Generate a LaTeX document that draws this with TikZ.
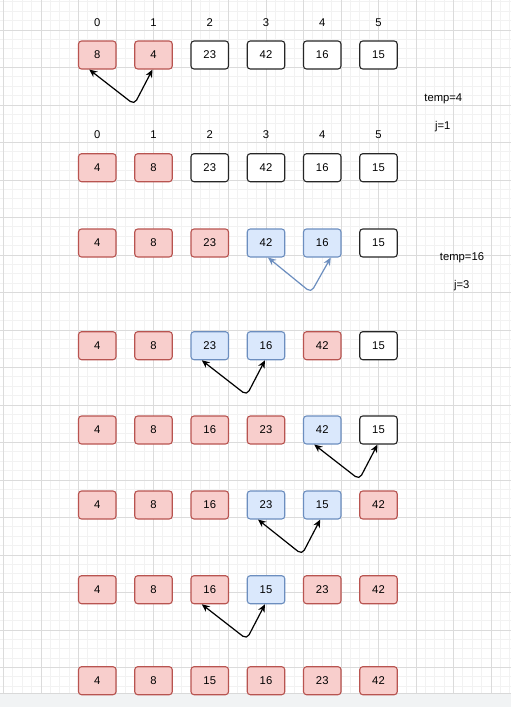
\documentclass[tikz,border=0pt]{standalone}
\usepackage{fontspec}
\setmainfont{Liberation Sans}
\usetikzlibrary{arrows.meta}
\begin{document}
\begin{tikzpicture}[x=1pt, y=-1pt,
  nodes={font=\fontsize{11.25}{13}\selectfont},
  cell/.style={rounded corners=3pt, line width=1.1pt, minimum width=37.5pt, minimum height=28pt, inner sep=0pt},
  link/.style={{Stealth[length=8pt,width=7pt]}-{Stealth[length=8pt,width=7pt]}, line width=1.2pt, rounded corners=5pt},
  minor/.style={draw=black!5, line width=0.8pt},
  major/.style={draw=black!14, line width=1pt}]

\definecolor{done fill}{HTML}{F8CECC}
\definecolor{done line}{HTML}{B85450}
\definecolor{live fill}{HTML}{DAE8FC}
\definecolor{live line}{HTML}{6C8EBF}
\definecolor{todo fill}{HTML}{FFFFFF}
\definecolor{todo line}{HTML}{262626}
\definecolor{band}{HTML}{F1F3F4}

\useasboundingbox (0,0) rectangle (511,707);
\fill[white] (0,0) rectangle (511,707);

% grid
\foreach \k in {0,...,54} \draw[minor] ({3.5+9.375*\k},0) -- ++(0,693.5);
\foreach \k in {1,...,74} \draw[minor] (0,{-7.5+9.375*\k}) -- ++(511,0);
\foreach \k in {0,...,13} \draw[major] ({3.5+37.5*\k},0) -- ++(0,693.5);
\foreach \k in {0,...,17} \draw[major] (0,{30+37.5*\k}) -- ++(511,0);
\fill[band] (0,693.5) rectangle (511,707);
\draw[black!15] (0,693.5) -- ++(511,0);

% indices
\foreach \c in {0,...,5} {
  \node (a\c) at ({97.25+56.25*\c},23) {\c};
  \node (b\c) at ({97.25+56.25*\c},135) {\c};
}

% rows of the array
\foreach \r/\y/\vals in {
    1/55/{8/done,4/done,23/todo,42/todo,16/todo,15/todo},
    2/167.7/{4/done,8/done,23/todo,42/todo,16/todo,15/todo},
    3/243/{4/done,8/done,23/done,42/live,16/live,15/todo},
    4/345.7/{4/done,8/done,23/live,16/live,42/done,15/todo},
    5/430/{4/done,8/done,16/done,23/done,42/live,15/todo},
    6/505/{4/done,8/done,16/done,23/live,15/live,42/done},
    7/589.7/{4/done,8/done,16/done,15/live,23/done,42/done},
    8/680.7/{4/done,8/done,15/done,16/done,23/done,42/done}}
  \foreach \v/\s [count=\c from 0] in \vals
    \node[cell, fill=\s\space fill, draw=\s\space line] (r\r-\c) at ({97.25+56.25*\c},\y) {\v};

% swaps
\draw[link] ([xshift=-8pt]r1-0.south) -- ++(45,35) -- ([xshift=-1pt]r1-1.south);
\draw[link, live line] ([xshift=2pt]r3-3.south) -- ++(43,35) -- ([xshift=8.5pt]r3-4.south);
\draw[link] ([xshift=-8pt]r4-2.south) -- ++(45,35) -- ([xshift=-1pt]r4-3.south);
\draw[link] ([xshift=-8pt]r5-4.south) -- ++(45,35) -- ([xshift=-1pt]r5-5.south);
\draw[link] ([xshift=-8pt]r6-3.south) -- ++(44,35) -- ([xshift=-2pt]r6-4.south);
\draw[link] ([xshift=-8pt]r7-2.south) -- ++(45,35) -- ([xshift=-1pt]r7-3.south);

\node (t1) at (443.3,98.3) {temp=4};
\node (j1) at (442.7,126.7) {j=1};
\node (t2) at (462,257.3) {temp=16};
\node (j2) at (461.7,285.7) {j=3};
\end{tikzpicture}
\end{document}
